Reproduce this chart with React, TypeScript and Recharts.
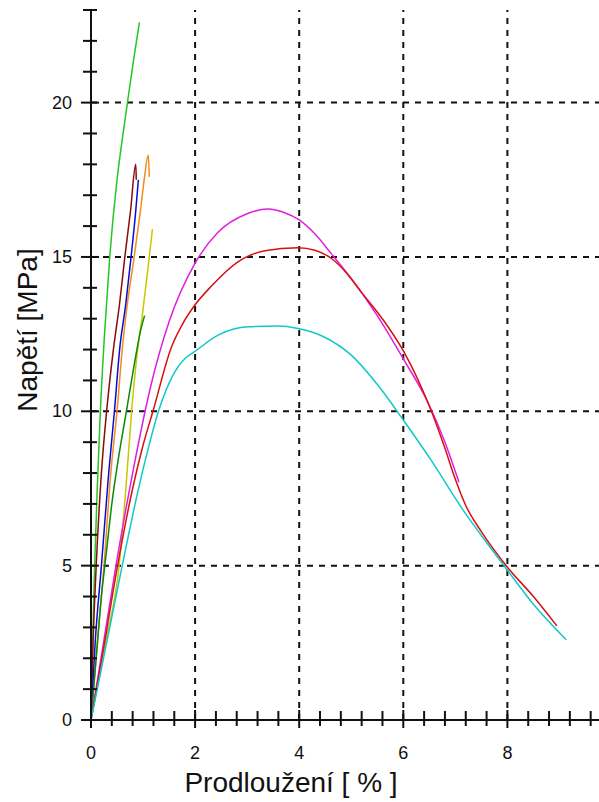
import React from "react";
import { LineChart, Line, XAxis, YAxis, ReferenceLine, Label } from "recharts";

// tick positions and the ones that carry a number
const xTicks = [0, 0.4, 0.8, 1.2, 1.6, 2, 2.4, 2.8, 3.2, 3.6, 4, 4.4, 4.8, 5.2, 5.6, 6, 6.4, 6.8, 7.2, 7.6, 8, 8.4, 8.8, 9.2, 9.6];
const yTicks = [0, 1, 2, 3, 4, 5, 6, 7, 8, 9, 10, 11, 12, 13, 14, 15, 16, 17, 18, 19, 20, 21, 22, 23];
const xLabeled = [0, 2, 4, 6, 8];
const yLabeled = [0, 5, 10, 15, 20];
const gridX = [2, 4, 6, 8];
const gridY = [5, 10, 15, 20];

// [prodlouzeni %, napeti MPa]
const green = [[0, 0], [0.03, 2.5], [0.07, 5], [0.12, 7.5], [0.18, 10], [0.26, 12.5], [0.36, 15], [0.5, 17.5], [0.6, 18.8], [0.7, 20], [0.82, 21.4], [0.93, 22.6]];
const maroon = [[0, 0], [0.04, 2.5], [0.1, 5], [0.2, 8], [0.3, 10], [0.43, 12], [0.55, 13.5], [0.65, 15], [0.76, 16.5], [0.86, 18.0], [0.87, 17.5]];
const blue = [[0, 0], [0.08, 2.5], [0.2, 5], [0.34, 8], [0.45, 10], [0.55, 12], [0.67, 13.5], [0.77, 15], [0.86, 16.5], [0.91, 17.5]];
const orange = [[0, 0], [0.12, 2.5], [0.25, 5], [0.38, 8], [0.5, 10], [0.6, 12], [0.7, 13.5], [0.83, 15], [0.95, 16.5], [1.03, 17.6], [1.1, 18.3], [1.12, 17.6]];
const yellow = [[0, 0], [0.28, 2.5], [0.54, 5], [0.67, 7.5], [0.78, 10], [0.87, 11.6], [1.0, 13.3], [1.12, 15], [1.18, 15.9]];
const darkGreen = [[0, 0], [0.1, 2], [0.2, 4], [0.3, 5.5], [0.4, 7], [0.52, 8.4], [0.68, 10], [0.84, 11.6], [0.95, 12.6], [1.03, 13.1]];
const magenta = [[0, 0], [0.25, 2.6], [0.5, 5.2], [0.8, 8], [1.16, 10.9], [1.5, 12.9], [2.0, 14.8], [2.44, 15.8], [3.0, 16.4], [3.4, 16.55], [3.72, 16.43], [4.0, 16.2], [4.3, 15.75], [4.62, 15.1], [5.0, 14.3], [5.5, 13.1], [6.0, 11.7], [6.47, 10.3], [6.8, 9.0], [7.07, 7.7]];
const red = [[0, 0], [0.25, 2.4], [0.5, 4.9], [0.8, 7.5], [1.0, 8.9], [1.19, 10], [1.55, 12.1], [1.75, 12.8], [2.0, 13.45], [2.31, 14.05], [2.83, 14.85], [3.34, 15.2], [3.98, 15.3], [4.3, 15.22], [4.62, 14.95], [4.9, 14.5], [5.19, 13.87], [5.64, 12.9], [6.02, 11.9], [6.54, 10], [6.8, 8.8], [7.0, 7.8], [7.2, 6.95], [7.5, 6.1], [8.0, 4.95], [8.5, 4.0], [8.95, 3.05]];
const cyan = [[0, 0], [0.3, 2.5], [0.6, 5], [0.9, 7.4], [1.1, 8.8], [1.29, 9.97], [1.61, 11.28], [1.8, 11.7], [1.99, 11.93], [2.44, 12.47], [3.02, 12.74], [3.59, 12.76], [3.98, 12.68], [4.49, 12.4], [5.0, 11.82], [5.51, 10.85], [6.02, 9.67], [6.54, 8.4], [7.15, 6.8], [7.6, 5.75], [7.98, 4.9], [8.5, 3.75], [9.13, 2.6]];

const series = [
  { name: "s1", pts: green, color: "#22c722" },
  { name: "s2", pts: orange, color: "#f08c1c" },
  { name: "s3", pts: maroon, color: "#8b0a0a" },
  { name: "s4", pts: blue, color: "#0a0ad8" },
  { name: "s5", pts: yellow, color: "#c8c800" },
  { name: "s6", pts: darkGreen, color: "#0a8a0a" },
  { name: "s7", pts: magenta, color: "#e01ee0" },
  { name: "s8", pts: red, color: "#d81010" },
  { name: "s9", pts: cyan, color: "#10c8c8" },
];

const FONT = "'Liberation Sans', Arial, sans-serif";

const YTick = (props: any) => {
  const { x, y, payload } = props;
  const major = yLabeled.includes(payload.value);
  return (
    <g>
      <line x1={x - (major ? 10 : 8)} x2={x + (major ? 8 : 6)} y1={y} y2={y} stroke="#111" strokeWidth={2} />
      {major && (
        <text x={x - 19} y={y} textAnchor="end" dominantBaseline="central" fontSize={18} fontFamily={FONT} fill="#111">
          {payload.value}
        </text>
      )}
    </g>
  );
};

const XTick = (props: any) => {
  const { x, y, payload } = props;
  const major = xLabeled.includes(payload.value);
  return (
    <g>
      <line x1={x} x2={x} y1={y - (major ? 10 : 9)} y2={y + (major ? 8 : 6)} stroke="#111" strokeWidth={2} />
      {major && (
        <text x={x} y={y + 39} textAnchor="middle" fontSize={18} fontFamily={FONT} fill="#111">
          {payload.value}
        </text>
      )}
    </g>
  );
};

export default function App() {
  return (
    <div style={{ position: "absolute", left: 0, top: 0, width: 599, height: 802, background: "#fff" }}>
      <LineChart width={599} height={802} margin={{ top: 10, right: 0, left: 0, bottom: 0 }}>
        <XAxis
          type="number"
          dataKey="x"
          domain={[0, 9.76]}
          ticks={xTicks}
          interval={0}
          height={82}
          tickSize={0}
          tickMargin={0}
          tick={<XTick />}
          axisLine={{ stroke: "#111", strokeWidth: 2 }}
          allowDataOverflow
        >
          <Label
            content={() => (
              <text x={291} y={792} textAnchor="middle" fontSize={28} fontFamily={FONT} fill="#111">
                Prodloužení [ % ]
              </text>
            )}
          />
        </XAxis>
        <YAxis
          type="number"
          domain={[0, 23]}
          ticks={yTicks}
          interval={0}
          width={91}
          tickSize={0}
          tickMargin={0}
          tick={<YTick />}
          axisLine={{ stroke: "#111", strokeWidth: 2 }}
          allowDataOverflow
        >
          <Label
            content={() => (
              <text
                x={27}
                y={330}
                transform="rotate(-90 27 330)"
                textAnchor="middle"
                dominantBaseline="central"
                fontSize={28}
                fontFamily={FONT}
                fill="#111"
              >
                Napětí [MPa]
              </text>
            )}
          />
        </YAxis>
        {gridX.map((v) => (
          <ReferenceLine key={"gx" + v} x={v} stroke="#111" strokeWidth={2} strokeDasharray="6 6" />
        ))}
        {gridY.map((v) => (
          <ReferenceLine key={"gy" + v} y={v} stroke="#111" strokeWidth={2} strokeDasharray="6 6" />
        ))}
        {series.map((s) => (
          <Line
            key={s.name}
            data={s.pts.map(([x, y]) => ({ x, y }))}
            dataKey="y"
            type="monotone"
            stroke={s.color}
            strokeWidth={1.5}
            dot={false}
            activeDot={false}
            isAnimationActive={false}
          />
        ))}
      </LineChart>
    </div>
  );
}
